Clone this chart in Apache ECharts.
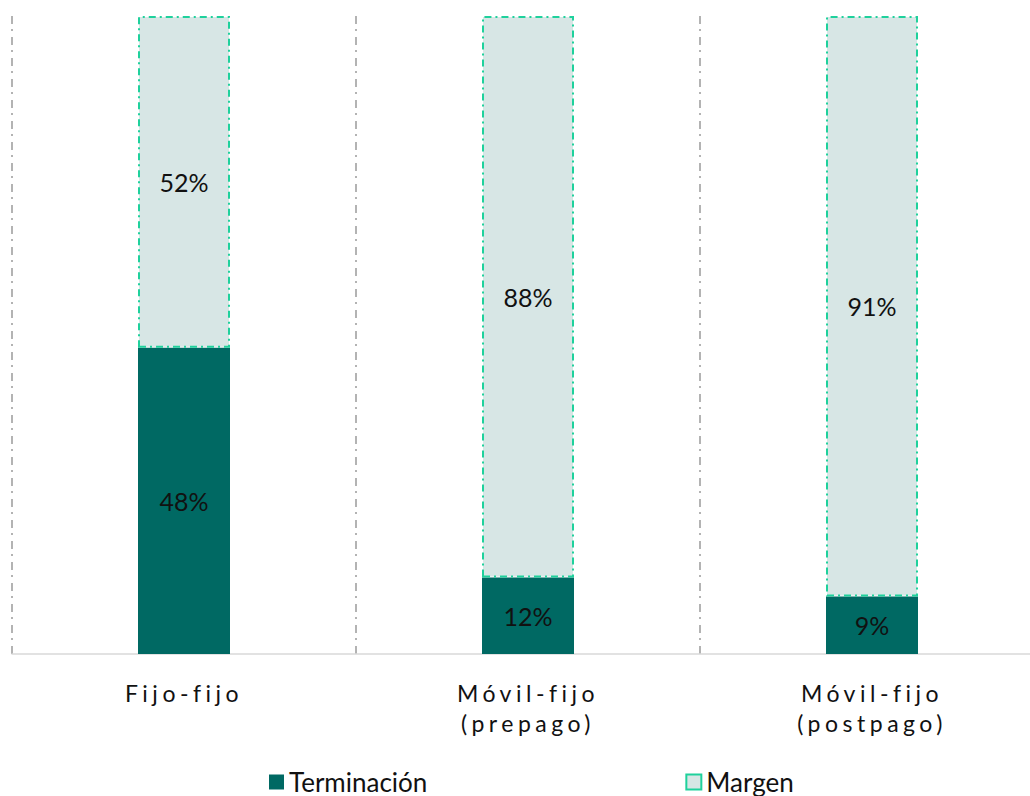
<!DOCTYPE html>
<html>
<head>
<meta charset="utf-8">
<script src="https://cdn.jsdelivr.net/npm/echarts@6/dist/echarts.min.js"></script>
<style>
  html, body { margin: 0; padding: 0; background: #fff; }
  #chart { width: 1030px; height: 796px; }
  /* category labels are drawn with wide letter spacing */
  #chart text[style*="sans-serif"] { letter-spacing: 4.5px; }
</style>
</head>
<body>
<div id="chart"></div>
<script>
// Categories and shares (%) of each cost component
const categories = ['Fijo-fijo', 'Móvil-fijo\n(prepago)', 'Móvil-fijo\n(postpago)'];
const terminacion = [48, 12, 9];
const margen = [52, 88, 91];
const seriesNames = ['Terminación', 'Margen'];

const chart = echarts.init(document.getElementById('chart'), null, { renderer: 'svg' });

const labelStyle = {
  show: true,
  position: 'inside',
  color: '#111',
  fontFamily: 'Lato',
  fontSize: 25,
  formatter: p => p.value + '%'
};

chart.setOption({
  animation: false,
  // the plot runs a little past the right edge of the canvas
  grid: {
    left: 12, width: 1032, top: 16, bottom: 142,
    containLabel: false,
    outerBoundsMode: 'none'
  },
  legend: {
    data: seriesNames,
    bottom: -4,
    left: 264,
    itemGap: 258,
    itemWidth: 15,
    itemHeight: 15,
    icon: 'rect',
    textStyle: { color: '#111', fontFamily: 'Lato', fontSize: 26 }
  },
  xAxis: {
    type: 'category',
    data: categories,
    boundaryGap: true,
    axisLine: { show: true, lineStyle: { color: '#d9d9d9', width: 1.5 } },
    axisTick: { show: false },
    axisLabel: {
      color: '#111',
      fontFamily: 'Lato, sans-serif',
      fontSize: 23,
      lineHeight: 30,
      margin: 24
    },
    splitLine: {
      show: true,
      lineStyle: { color: '#9a9a9a', width: 1.5, type: [8, 5, 2, 6] }
    }
  },
  yAxis: {
    type: 'value',
    min: 0,
    max: 100,
    show: false,
    splitLine: { show: false }
  },
  series: [
    {
      name: seriesNames[0],
      type: 'bar',
      stack: 'total',
      barWidth: 92,
      data: terminacion,
      itemStyle: { color: '#006963' },
      label: labelStyle
    },
    {
      name: seriesNames[1],
      type: 'bar',
      stack: 'total',
      barWidth: 92,
      data: margen,
      itemStyle: {
        color: '#d7e6e5',
        borderColor: '#1fd19c',
        borderWidth: 2,
        borderType: [7, 4, 2, 4]
      },
      label: labelStyle
    }
  ]
});
</script>
</body>
</html>
